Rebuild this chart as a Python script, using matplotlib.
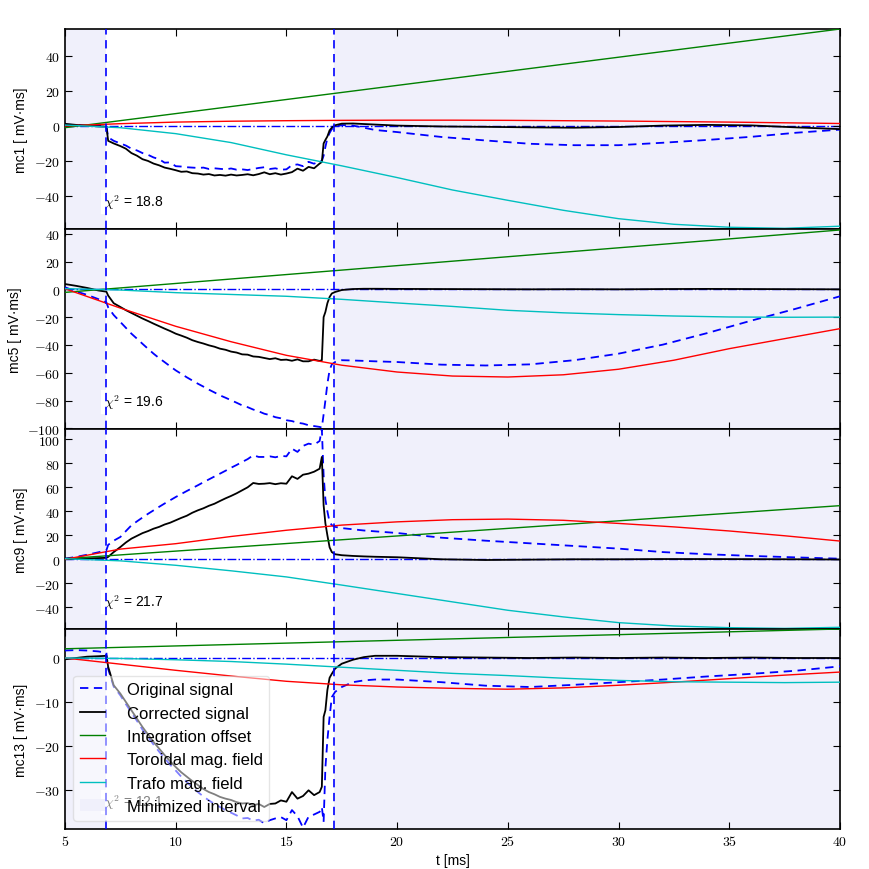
import matplotlib
matplotlib.use('Agg')
import matplotlib.pyplot as plt
from matplotlib.ticker import FuncFormatter
from matplotlib.patches import Patch

plt.rcParams['font.family'] = ['Liberation Sans', 'DejaVu Sans']
plt.rcParams['mathtext.fontset'] = 'cm'
plt.rcParams['lines.scale_dashes'] = False

# --- data ---
channels = ['mc1', 'mc5', 'mc9', 'mc13']
chi2 = [18.8, 19.6, 21.7, 12.1]
t_start, t_end = 6.87, 17.17

t_sig = [5, 5.5, 6, 6.5, 6.87, 6.95, 7.2,
         7.5, 7.75, 8, 8.25, 8.5, 8.75, 9, 9.25, 9.5, 9.75,
         10, 10.25, 10.5, 10.75, 11, 11.25, 11.5, 11.75, 12, 12.25,
         12.5, 12.75, 13, 13.25, 13.5, 13.75, 14, 14.25, 14.5, 14.75,
         15, 15.25, 15.5, 15.75, 16, 16.25, 16.5,
         16.6, 16.68, 16.76, 16.85, 16.95, 17.05, 17.2,
         17.5, 18, 18.5, 19, 20, 22, 24, 26, 28, 30, 32, 34, 36, 38, 40]
t_fit = [5, 7.5, 10, 12.5, 15, 17.5, 20, 22.5, 25, 27.5, 30, 32.5, 35, 37.5, 40]
t_offset = [5, 40]

# mc1
mc1_orig = [0.8, 0.5, 0.3, 0.2, 0.0, -6.5, -8.5,
            -10.0, -11.2, -13.0, -14.0, -15.5, -16.5, -18.0, -19.0, -21.0, -20.8,
            -23.0, -23.2, -23.6, -23.8, -24.0, -23.8, -24.6, -24.2, -24.5, -24.8,
            -24.3, -25.0, -24.8, -25.2, -24.6, -24.0, -23.6, -24.6, -24.2, -25.0,
            -24.8, -22.4, -22.0, -23.0, -20.5, -21.6, -20.0,
            -20.0, -17.0, -12.0, -7.0, -4.0, -1.8, -0.5,
            0.5, 0.2, -1.0, -2.3, -3.5, -6.3, -8.3, -10.2, -11.0, -11.0, -9.6, -8.0, -6.2, -3.9, -2.1]
mc1_corr = [1.2, 0.6, 0.2, -0.2, -0.4, -8.5, -10.0,
            -11.5, -13.0, -15.5, -17.0, -19.0, -20.0, -21.5, -22.5, -23.8, -24.5,
            -25.3, -26.2, -26.0, -27.0, -27.2, -27.8, -27.5, -28.3, -28.0, -28.4,
            -27.8, -28.3, -28.0, -27.6, -28.2, -27.5, -26.5, -27.6, -27.0, -27.8,
            -27.2, -26.4, -24.4, -25.6, -23.4, -24.2, -21.5,
            -20.6, -10.0, -8.0, -6.0, -2.5, -1.0, 0.4,
            1.3, 1.4, 1.1, 0.8, 0.2, -0.3, -0.5, -0.8, -1.0, -0.6, 0.2, 0.6, 0.3, -0.8, -1.8]
mc1_offset = [-1.0, 55.4]
mc1_tor = [0.0, 1.3, 2.2, 2.7, 3.0, 3.2, 3.3, 3.3, 3.2, 3.0, 2.8, 2.5, 2.2, 1.8, 1.4]
mc1_trafo = [0.5, -1.0, -4.4, -9.5, -16.5, -22.8, -29.5, -36.6, -42.5, -48.2, -53.0, -56.2, -57.9, -58.5, -57.3]

# mc5
mc5_orig = [1.5, -1.5, -4.0, -7.0, -9.4, -13.0, -18.5,
            -23.5, -27.7, -31.9, -35.5, -39.2, -42.8, -46.3, -49.5, -52.4, -55.4,
            -58.3, -60.8, -63.3, -65.6, -67.9, -70.0, -72.2, -74.2, -76.3, -78.0,
            -79.8, -81.6, -83.5, -84.8, -86.5, -87.8, -89.5, -90.5, -92.0, -92.8,
            -94.2, -94.8, -96.0, -96.6, -97.8, -98.4, -99.0,
            -99.5, -90.0, -80.0, -68.0, -58.0, -54.0, -52.3,
            -51.0, -51.2, -51.5, -51.8, -52.3, -54.2, -54.8, -54.0, -51.0, -46.3, -39.8, -31.5, -22.5, -14.0, -5.0]
mc5_corr = [3.8, 2.5, 1.0, -0.8, -1.7, -4.5, -10.0,
            -12.7, -15.0, -17.0, -19.0, -21.0, -22.8, -24.7, -26.5, -28.3, -30.0,
            -31.9, -33.3, -34.8, -36.6, -37.9, -39.0, -40.3, -41.3, -42.7, -43.5,
            -44.8, -45.5, -46.8, -47.0, -48.3, -48.6, -49.4, -50.2, -49.6, -50.8,
            -50.6, -51.4, -50.4, -51.8, -51.8, -50.6, -51.5,
            -51.0, -20.0, -16.3, -10.0, -5.5, -3.0, -1.9,
            -0.5, 0.2, 0.4, 0.4, 0.3, 0.2, 0.1, 0.0, 0.1, 0.0, 0.2, 0.3, 0.2, 0.1, 0.0]
mc5_offset = [-2.2, 42.7]
mc5_tor = [0.4, -13.5, -26.6, -37.7, -47.5, -54.6, -59.5, -62.4, -63.1, -61.5, -57.5, -51.0, -42.7, -35.5, -28.3]
mc5_trafo = [0.5, -0.5, -2.4, -3.7, -5.0, -7.2, -9.8, -12.3, -15.1, -16.9, -18.2, -19.2, -19.9, -20.1, -20.0]

# mc9
mc9_orig = [0.5, 2.0, 3.8, 5.8, 7.5, 12.0, 15.5,
            18.6, 23.5, 28.3, 31.6, 34.8, 37.9, 40.8, 43.7, 46.5, 49.2,
            51.9, 54.4, 56.9, 59.3, 61.7, 64.2, 66.6, 69.0, 71.4, 73.8,
            76.3, 78.6, 81.1, 83.5, 86.7, 85.3, 85.3, 85.8, 85.0, 86.2,
            85.8, 92.2, 89.5, 94.5, 96.4, 95.5, 98.6,
            108.5, 70.0, 50.0, 40.0, 31.0, 28.5, 27.0,
            26.0, 25.0, 24.0, 23.3, 21.9, 18.0, 15.5, 13.3, 11.1, 8.9, 6.0, 4.2, 2.8, 1.6, 0.5]
mc9_corr = [0.5, 0.6, 0.8, 1.0, 1.2, 2.0, 6.0,
            10.2, 14.0, 17.2, 19.5, 21.8, 23.5, 25.5, 27.0, 29.0, 30.5,
            32.5, 34.5, 36.3, 38.8, 40.8, 42.5, 44.6, 46.3, 48.6, 50.8,
            52.8, 55.0, 57.5, 60.0, 63.6, 62.8, 63.0, 63.5, 62.6, 63.4,
            63.0, 69.2, 67.0, 70.5, 71.4, 73.0, 75.5,
            85.3, 45.0, 30.0, 20.0, 10.0, 6.0, 4.2,
            3.4, 2.8, 2.4, 2.1, 1.7, 0.0, -0.6, -0.3, 0.0, 0.0, 0.2, 0.2, 0.1, 0.0, -0.2]
mc9_offset = [0.5, 44.7]
mc9_tor = [0.0, 8.5, 13.0, 19.0, 24.2, 28.5, 31.2, 33.0, 33.5, 32.5, 29.9, 27.0, 23.6, 19.6, 15.2]
mc9_trafo = [0.5, -1.3, -5.0, -9.6, -14.7, -21.5, -28.5, -35.5, -42.5, -48.0, -52.8, -55.6, -57.0, -57.6, -56.7]

# mc13
mc13_orig = [1.7, 1.8, 1.7, 1.5, 1.2, -2.5, -6.5,
             -8.5, -10.5, -12.4, -14.3, -16.3, -18.0, -19.7, -21.3, -22.8, -24.3,
             -25.6, -27.0, -28.2, -29.4, -30.5, -31.5, -32.4, -33.2, -33.9, -34.6,
             -35.2, -35.8, -36.5, -36.4, -37.0, -36.8, -37.6, -36.9, -36.5, -36.2,
             -36.9, -34.6, -36.0, -38.6, -36.1, -35.6, -35.0,
             -33.9, -37.3, -25.0, -18.7, -13.4, -8.9, -7.7,
             -6.6, -5.5, -5.1, -4.9, -4.9, -5.5, -6.3, -6.6, -6.1, -5.5, -4.9, -4.2, -3.6, -2.9, -1.9]
mc13_corr = [-0.3, 0.0, 0.3, 0.4, 0.5, -2.0, -6.2,
             -8.1, -10.0, -11.9, -13.8, -15.7, -17.4, -19.1, -20.6, -22.1, -23.5,
             -24.8, -26.0, -27.0, -28.0, -28.9, -29.8, -30.5, -31.0, -31.6, -32.0,
             -32.3, -32.8, -33.1, -33.0, -33.5, -33.2, -33.9, -33.2, -33.1, -32.4,
             -32.7, -30.5, -32.0, -31.4, -30.1, -31.2, -30.5,
             -29.3, -13.4, -11.9, -7.3, -4.5, -3.6, -2.4,
             -1.3, -0.4, 0.2, 0.5, 0.5, 0.2, 0.1, 0.0, 0.1, 0.0, 0.1, 0.0, 0.1, 0.0, 0.0]
mc13_offset = [2.1, 6.6]
mc13_tor = [0.0, -1.4, -2.8, -4.1, -5.3, -6.1, -6.6, -6.9, -7.1, -6.8, -6.2, -5.5, -4.7, -3.9, -3.2]
mc13_trafo = [0.0, -0.1, -0.4, -0.8, -1.4, -2.1, -2.8, -3.5, -4.0, -4.6, -5.1, -5.4, -5.5, -5.6, -5.5]

orig = [mc1_orig, mc5_orig, mc9_orig, mc13_orig]
corr = [mc1_corr, mc5_corr, mc9_corr, mc13_corr]
offsets = [mc1_offset, mc5_offset, mc9_offset, mc13_offset]
tor = [mc1_tor, mc5_tor, mc9_tor, mc13_tor]
trafo = [mc1_trafo, mc5_trafo, mc9_trafo, mc13_trafo]

ylims = [(-58.9, 55.4), (-100.5, 43.4), (-58.1, 108.6), (-38.9, 6.6)]
yticks = [[-40, -20, 0, 20, 40],
          [-100, -80, -60, -40, -20, 0, 20, 40],
          [-40, -20, 0, 20, 40, 60, 80, 100],
          [-30, -20, -10, 0]]

# --- plot ---
fig, axes = plt.subplots(4, 1, sharex=True, figsize=(8.7, 8.7), dpi=100)
fig.subplots_adjust(left=0.0747, right=0.9655, top=0.9655, bottom=0.046, hspace=0)

shade = (0.94, 0.94, 0.985)
cm_fmt = FuncFormatter(lambda v, p: r'$%g$' % v)

for i, ax in enumerate(axes):
    ax.axvspan(5, t_start, color=shade, lw=0, zorder=0)
    ax.axvspan(t_end, 40, color=shade, lw=0, zorder=0)
    ax.axhline(0, color='b', ls='-.', lw=1.0, zorder=1)
    for tv in (t_start, t_end):
        ax.axvline(tv, color='b', lw=1.2, dashes=(6, 4), zorder=4)

    ax.plot(t_sig, orig[i], color='b', lw=1.3, dashes=(6, 4), label='Original signal', zorder=3)
    ax.plot(t_sig, corr[i], color='k', lw=1.3, label='Corrected signal', zorder=3)
    ax.plot(t_offset, offsets[i], color=(0, 0.5, 0), lw=1.0, label='Integration offset', zorder=3)
    ax.plot(t_fit, tor[i], color='r', lw=1.0, label='Toroidal mag. field', zorder=3)
    ax.plot(t_fit, trafo[i], color=(0, 0.75, 0.75), lw=1.0, label='Trafo mag. field', zorder=3)

    ax.text(0.05, 0.135, r'$\chi^2$ = %.1f' % chi2[i], transform=ax.transAxes,
            ha='left', va='center', fontsize=10, zorder=2,
            bbox=dict(facecolor='white', edgecolor='none', pad=2))

    ax.set_xlim(5, 40)
    ax.set_ylim(*ylims[i])
    ax.set_yticks(yticks[i])
    ax.yaxis.set_major_formatter(cm_fmt)
    ax.xaxis.set_major_formatter(cm_fmt)
    ax.tick_params(direction='in', top=True, right=True, length=5, labelsize=10)
    ax.set_ylabel('%s [ mV·ms]' % channels[i], fontsize=10)
    for s in ax.spines.values():
        s.set_linewidth(1.2)

axes[-1].set_xticks([5, 10, 15, 20, 25, 30, 35, 40])
axes[-1].set_xlabel('t [ms]', fontsize=10)

handles, labels = axes[-1].get_legend_handles_labels()
handles.append(Patch(facecolor=shade, edgecolor='none'))
labels.append('Minimized interval')
axes[-1].legend(handles, labels, loc='lower left', fontsize=12, framealpha=0.5,
                fancybox=True, handlelength=1.5, handletextpad=1.3, labelspacing=0.5)

fig.savefig('out.png', dpi=100)
